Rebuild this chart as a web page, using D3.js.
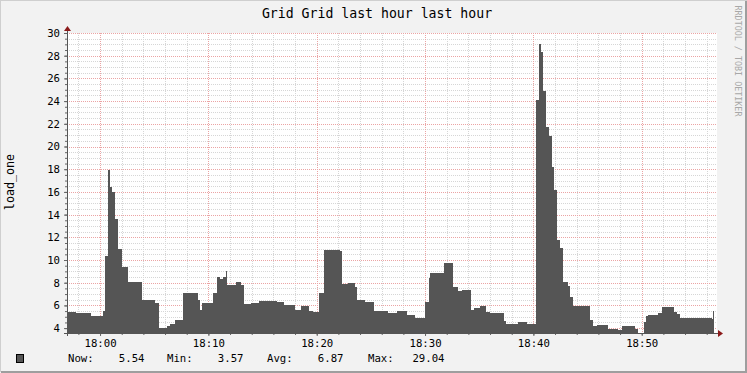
<!DOCTYPE html>
<html><head><meta charset="utf-8">
<script src="https://cdn.jsdelivr.net/npm/d3@7"></script>
<style>
html,body{margin:0;padding:0;background:#f2f2f2;}
svg text{font-family:"DejaVu Sans Mono",monospace;}
</style></head>
<body><svg id="c" width="747" height="373"></svg>
<script>
// ---- data ----
const title = "Grid Grid last hour last hour";
const yLabel = "load_one";
const watermark = "RRDTOOL / TOBI OETIKER";
const startTime = "17:56:57";
const endTime = "18:56:57";
const times = ["17:56:57","17:57:45","17:59:10","18:00:15","18:00:30","18:00:45","18:00:55","18:01:05","18:01:25","18:01:40","18:02:00","18:02:35","18:03:55","18:05:05","18:05:25","18:06:10","18:06:30","18:06:55","18:07:40","18:09:00","18:09:15","18:09:25","18:10:25","18:10:45","18:11:05","18:11:20","18:11:35","18:11:45","18:12:35","18:13:00","18:13:15","18:13:55","18:14:40","18:16:20","18:17:00","18:18:00","18:18:35","18:19:15","18:19:40","18:20:15","18:20:40","18:22:10","18:22:20","18:22:55","18:23:30","18:23:45","18:24:30","18:25:15","18:26:35","18:27:25","18:28:20","18:29:05","18:29:50","18:30:00","18:30:20","18:30:30","18:31:45","18:32:35","18:33:00","18:33:25","18:34:15","18:34:30","18:35:05","18:35:40","18:36:00","18:37:15","18:37:30","18:38:35","18:39:25","18:40:15","18:40:30","18:40:40","18:40:55","18:41:10","18:41:25","18:41:45","18:41:55","18:42:10","18:42:30","18:42:45","18:43:10","18:43:25","18:43:40","18:45:15","18:45:30","18:45:50","18:46:55","18:47:50","18:48:10","18:49:25","18:49:40","18:50:10","18:50:25","18:50:35","18:51:30","18:51:50","18:53:00","18:53:15","18:53:30","18:56:00","18:56:30","18:56:35","18:56:40"];
const values = [5.40,5.29,5.05,5.52,10.35,17.94,16.46,15.97,13.6,10.96,9.4,8.08,6.46,6.2,3.97,4.15,4.4,4.7,7.1,6.5,5.6,6.22,7.05,8.47,8.3,8.5,9.05,7.8,8.03,7.8,6.1,6.2,6.37,6.26,6.02,5.58,5.93,5.49,5.43,7.05,10.88,10.79,7.88,7.95,7.6,6.52,6.31,5.55,5.29,5.49,5.14,4.9,4.85,6.31,8.38,8.88,9.7,7.58,7.26,7.34,5.64,5.73,5.93,5.43,5.34,4.61,4.34,4.55,4.34,24.11,29.04,28.29,24.86,21.76,20.94,18.23,16.17,11.76,11.02,8.08,7.7,6.75,5.93,4.7,4.2,4.26,3.9,3.81,4.23,3.9,3.57,4.55,5.05,5.14,5.29,5.88,5.43,5.2,4.85,4.9,4.8,5.54,5.54];
const yMin = 3.57, yMax = 30;
const yMajorTicks = [4,6,8,10,12,14,16,18,20,22,24,26,28,30];
const legendLabels = ["Now:","Min:","Avg:","Max:"];
const legendValues = ["5.54","3.57","6.87","29.04"];

// ---- layout ----
const L = 67, R = 717, T = 33, B = 333;
const svg = d3.select("#c");
const parse = d3.timeParse("%H:%M:%S");
const data = times.map((t,i)=>({t:parse(t), v:values[i]}));
const x = d3.scaleTime().domain([parse(startTime), parse(endTime)]).range([L,R]);
const y = d3.scaleLinear().domain([yMin,yMax]).range([B,T]);

// background & frame
svg.append("rect").attr("width",747).attr("height",373).attr("fill","#f2f2f2");
svg.append("path").attr("d","M0,372V0H747").attr("fill","none").attr("stroke","#cfcfcf").attr("stroke-width",2);
svg.append("path").attr("d","M1,372H746V1").attr("fill","none").attr("stroke","#9e9e9e").attr("stroke-width",2);
svg.append("rect").attr("x",L).attr("y",T).attr("width",R-L).attr("height",B-T).attr("fill","#ffffff");

// grid
const g = svg.append("g");
const minorX = d3.timeMinute.every(2).range(x.domain()[0], x.domain()[1]);
const majorX = minorX.filter(d=>d.getMinutes()%10===0);
const minorY = d3.range(4,30.01,0.5);
g.selectAll(".mx").data(minorX.filter(d=>d.getMinutes()%10!==0)).join("line")
  .attr("x1",d=>Math.round(x(d))+0.5).attr("x2",d=>Math.round(x(d))+0.5).attr("y1",T).attr("y2",B)
  .attr("stroke","#d6d6d6").attr("stroke-dasharray","1,1");
g.selectAll(".my").data(minorY.filter(v=>v%2!==0)).join("line")
  .attr("y1",d=>Math.round(y(d))+0.5).attr("y2",d=>Math.round(y(d))+0.5).attr("x1",L).attr("x2",R)
  .attr("stroke","#d6d6d6").attr("stroke-dasharray","1,1");
g.selectAll(".Mx").data(majorX).join("line")
  .attr("x1",d=>Math.round(x(d))+0.5).attr("x2",d=>Math.round(x(d))+0.5).attr("y1",T).attr("y2",B)
  .attr("stroke","#eba4a4").attr("stroke-dasharray","1,1");
g.selectAll(".My").data(yMajorTicks).join("line")
  .attr("y1",d=>Math.round(y(d))+0.5).attr("y2",d=>Math.round(y(d))+0.5).attr("x1",L).attr("x2",R)
  .attr("stroke","#eba4a4").attr("stroke-dasharray","1,1");

// area
const area = d3.area().curve(d3.curveStepAfter).x(d=>x(d.t)).y0(y(yMin)).y1(d=>y(d.v));
svg.append("path").datum(data).attr("d",area).attr("fill","#555555").attr("shape-rendering","crispEdges");

// axes
const xa = svg.append("g").attr("transform",`translate(0,${B})`)
  .call(d3.axisBottom(x).tickValues(majorX).tickFormat(d3.timeFormat("%H:%M")).tickSize(3).tickPadding(3));
const xm = svg.append("g").attr("transform",`translate(0,${B})`)
  .call(d3.axisBottom(x).tickValues(minorX).tickFormat("").tickSize(2));
const ya = svg.append("g").attr("transform",`translate(${L},0)`)
  .call(d3.axisLeft(y).tickValues(yMajorTicks).tickFormat(d3.format("d")).tickSize(3).tickPadding(4));
const ym = svg.append("g").attr("transform",`translate(${L},0)`)
  .call(d3.axisLeft(y).tickValues(minorY).tickFormat("").tickSize(2));
[xa,xm,ya,ym].forEach(a=>{
  a.select(".domain").remove();
  a.selectAll("line").attr("stroke","#666");
  a.selectAll("text").attr("fill","#000").style("font-family","'DejaVu Sans Mono',monospace").style("font-size","10.67px");
});
// axis lines with arrows
svg.append("line").attr("x1",L-3).attr("x2",R+3).attr("y1",B+0.5).attr("y2",B+0.5).attr("stroke","#555");
svg.append("line").attr("x1",L+0.5).attr("x2",L+0.5).attr("y1",B+3).attr("y2",T-3).attr("stroke","#555");
svg.append("path").attr("d",`M${R+1},${B-3}L${R+6},${B+0.5}L${R+1},${B+4}Z`).attr("fill","#8b1a1a");
svg.append("path").attr("d",`M${L-3},${T-2}L${L+0.5},${T-7}L${L+4},${T-2}Z`).attr("fill","#8b1a1a");

// title, labels
svg.append("text").attr("x",377).attr("y",18).attr("text-anchor","middle").style("font-size","13.2px").attr("fill","#000").text(title);
svg.append("text").attr("transform","translate(14,182) rotate(-90)").attr("text-anchor","middle").style("font-size","11.7px").attr("fill","#000").text(yLabel);
svg.append("text").attr("transform","translate(735,61) rotate(90)").attr("text-anchor","middle").style("font-size","8.4px").attr("fill","#a8a8a8").text(watermark);

// legend
svg.append("rect").attr("x",16.5).attr("y",354.5).attr("width",7).attr("height",8).attr("fill","#555555").attr("stroke","#000");
const lx = [68,167,267,368];
legendLabels.forEach((lab,i)=>{
  svg.append("text").attr("x",lx[i]).attr("y",362).style("font-size","10.67px").attr("fill","#000").text(lab);
  svg.append("text").attr("x",lx[i]+76.5).attr("y",362).attr("text-anchor","end").style("font-size","10.67px").attr("fill","#000").text(legendValues[i]);
});
</script></body></html>
